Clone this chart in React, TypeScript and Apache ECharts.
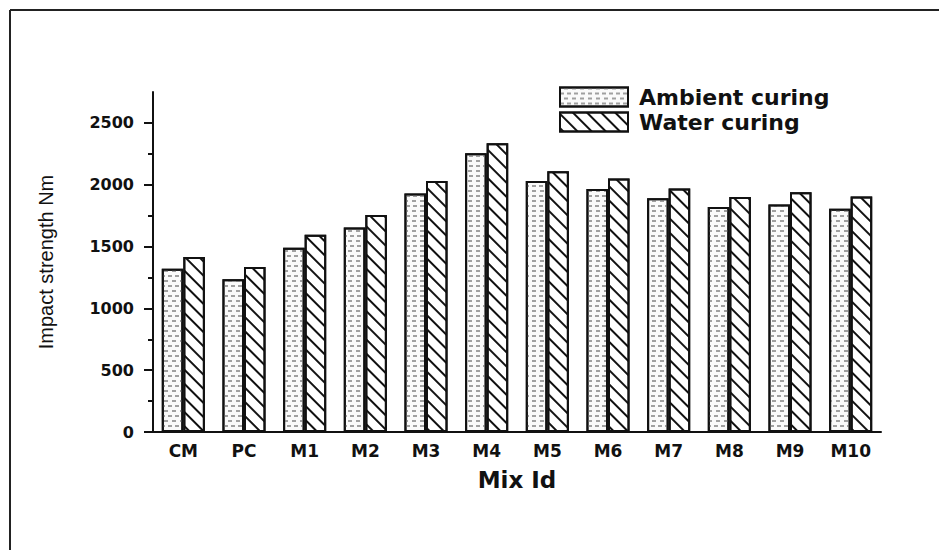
import React, { useEffect, useRef } from "react";
import * as echarts from "echarts";

const categories = ["CM", "PC", "M1", "M2", "M3", "M4", "M5", "M6", "M7", "M8", "M9", "M10"];
const ambientCuring = [1320, 1235, 1490, 1655, 1930, 2255, 2030, 1965, 1890, 1820, 1840, 1805];
const waterCuring = [1415, 1335, 1595, 1755, 2030, 2335, 2110, 2050, 1970, 1900, 1940, 1905];
const yMajorTicks = [0, 500, 1000, 1500, 2000, 2500];
const yMinorTicks = [250, 750, 1250, 1750, 2250];

const WIDE = "'DejaVu Sans', Verdana, sans-serif";
const NARROW = "'Liberation Sans Narrow', 'Arial Narrow', 'Liberation Sans', Arial, sans-serif";

export default function App() {
  const ref = useRef<HTMLDivElement>(null);
  useEffect(() => {
    if (!ref.current) return;
    const chart = echarts.init(ref.current, null, { renderer: "svg" });
    const barBorder = { borderColor: "#111", borderWidth: 2 };
    chart.setOption({
      animation: false,
      backgroundColor: "#fff",
      grid: { left: 153, right: 58, top: 92, bottom: 118, containLabel: false },
      legend: {
        orient: "vertical",
        left: 554,
        top: 81,
        itemWidth: 68,
        itemHeight: 19,
        itemGap: 3,
        icon: "rect",
        selectedMode: false,
        textStyle: { fontFamily: WIDE, fontWeight: "bold", fontSize: 22, color: "#111", padding: [0, 0, 0, 6] },
        data: ["Ambient curing", "Water curing"],
      },
      xAxis: {
        type: "category",
        data: categories,
        name: "Mix Id",
        nameLocation: "middle",
        nameGap: 36,
        nameTextStyle: { fontFamily: WIDE, fontWeight: "bold", fontSize: 23, color: "#111" },
        axisLine: { lineStyle: { color: "#111", width: 2 } },
        axisTick: { alignWithLabel: true, length: 6, lineStyle: { color: "#111", width: 2 } },
        axisLabel: { fontFamily: WIDE, fontWeight: "bold", fontSize: 17, color: "#111", margin: 10 },
      },
      yAxis: [
        {
          type: "value",
          min: 0,
          max: 2750,
          name: "Impact strength Nm",
          nameLocation: "middle",
          nameGap: 97,
          nameTextStyle: { fontFamily: NARROW, fontSize: 20, color: "#111" },
          axisLine: { show: true, lineStyle: { color: "#111", width: 2 } },
          axisTick: { show: true, length: 9, customValues: yMajorTicks, lineStyle: { color: "#111", width: 2 } },
          axisLabel: {
            customValues: yMajorTicks,
            formatter: (v: number) => String(v),
            fontFamily: WIDE,
            fontWeight: "bold",
            fontSize: 16,
            color: "#111",
            margin: 19,
          },
          splitLine: { show: false },
        },
        {
          type: "value",
          min: 0,
          max: 2750,
          position: "left",
          axisLine: { show: false },
          axisTick: { show: true, length: 5, customValues: yMinorTicks, lineStyle: { color: "#111", width: 2 } },
          axisLabel: { show: false },
          splitLine: { show: false },
        },
      ],
      series: [
        {
          name: "Ambient curing",
          type: "bar",
          data: ambientCuring,
          barGap: "0%",
          barCategoryGap: "29%",
          itemStyle: {
            color: "#fafafa",
            ...barBorder,
            decal: {
              symbol: "rect",
              color: "#a0a0a0",
              backgroundColor: "#fafafa",
              dashArrayX: [[4, 3], [0, 3.5, 4, 0]],
              dashArrayY: [1.5, 2.5],
              symbolSize: 1,
              rotation: 0,
            },
          },
        },
        {
          name: "Water curing",
          type: "bar",
          data: waterCuring,
          itemStyle: {
            color: "#ffffff",
            ...barBorder,
            decal: {
              symbol: "rect",
              color: "#111",
              backgroundColor: "#ffffff",
              dashArrayX: [1, 0],
              dashArrayY: [2, 7.5],
              symbolSize: 1,
              rotation: Math.PI / 4,
            },
          },
        },
      ],
      graphic: [
        { type: "line", shape: { x1: 10, y1: 10, x2: 939, y2: 10 }, style: { stroke: "#222", lineWidth: 2 } },
        { type: "line", shape: { x1: 10, y1: 10, x2: 10, y2: 550 }, style: { stroke: "#222", lineWidth: 2 } },
      ],
    });
    return () => chart.dispose();
  }, []);
  return <div ref={ref} style={{ width: 939, height: 550, position: "absolute", left: 0, top: 0 }} />;
}
